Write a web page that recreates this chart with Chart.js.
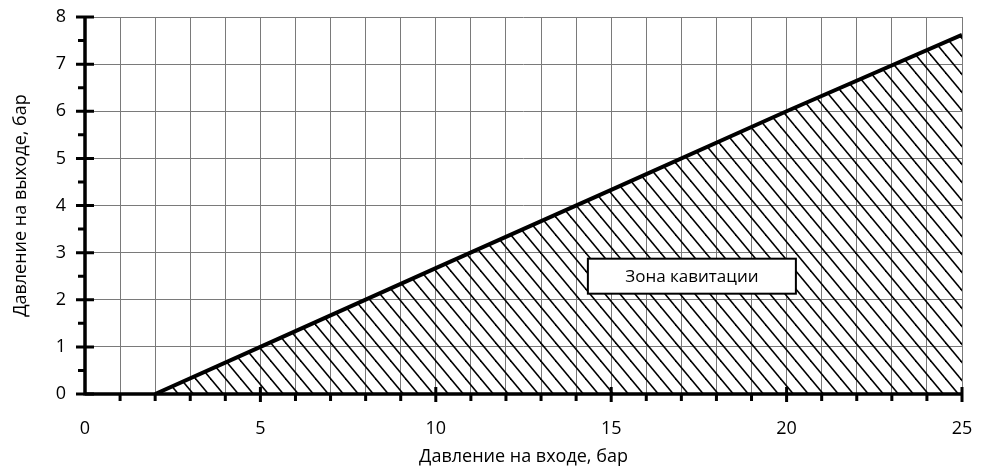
<!DOCTYPE html>
<html>
<head>
<meta charset="utf-8">
<script src="https://cdn.jsdelivr.net/npm/chart.js@4.4.0/dist/chart.umd.min.js"></script>
<style>
  html, body { margin: 0; padding: 0; background: #fff; }
  #wrap { width: 981px; height: 471px; }
</style>
</head>
<body>
<div id="wrap"><canvas id="chart" width="981" height="471"></canvas></div>
<script>
// данные кривой кавитации (давление на входе / на выходе, бар)
const inletPressure = [2, 5, 10, 15, 20, 25];
const outletPressure = [0, 1, 2.67, 4.33, 6, 7.62];
const xTickLabels = [0, 5, 10, 15, 20, 25];
const yTickLabels = [0, 1, 2, 3, 4, 5, 6, 7, 8];
const zoneLabel = 'Зона кавитации';
const zoneLabelAt = [17.3, 2.5];

const FONT = '"Open Sans", "DejaVu Sans", sans-serif';

// штриховка
function makeHatch() {
  const w = 15, h = 18;
  const c = document.createElement('canvas');
  c.width = w; c.height = h;
  const g = c.getContext('2d');
  g.strokeStyle = '#000';
  g.lineWidth = 1.6;
  [-w, 0, w].forEach(off => {
    g.beginPath();
    g.moveTo(off - w, -h);
    g.lineTo(off + 2 * w, 2 * h);
    g.stroke();
  });
  return g.createPattern(c, 'repeat');
}

// убрать автоматические отступы шкалы под подписи
function noOverhang(s) {
  s.paddingLeft = 0; s.paddingRight = 0;
  s.paddingTop = 0; s.paddingBottom = 0;
}

// оси, засечки и подпись зоны
const axesPlugin = {
  id: 'axesPlugin',
  afterDraw(chart) {
    const ctx = chart.ctx;
    const xs = chart.scales.x, ys = chart.scales.y;
    const x0 = xs.getPixelForValue(0), x1 = xs.getPixelForValue(25);
    const y0 = ys.getPixelForValue(0), y1 = ys.getPixelForValue(8);
    ctx.save();
    ctx.strokeStyle = '#000';
    ctx.lineCap = 'butt';

    ctx.lineWidth = 3.5;
    ctx.beginPath();
    ctx.moveTo(x0, y0 + 1.5); ctx.lineTo(x0, y1);
    ctx.moveTo(x0, y0); ctx.lineTo(x1, y0);
    ctx.stroke();

    ctx.lineWidth = 3;
    ctx.beginPath();
    for (let v = 0; v <= 8; v += 0.5) {
      const py = ys.getPixelForValue(v);
      if (v % 1 === 0) {
        ctx.moveTo(x0 - 9, py); ctx.lineTo(x0 + 9, py);
      } else {
        ctx.moveTo(x0 - 7, py); ctx.lineTo(x0, py);
      }
    }
    for (let v = 1; v <= 25; v++) {
      const px = xs.getPixelForValue(v);
      if (v % 5 === 0) {
        ctx.moveTo(px, y0 - 7); ctx.lineTo(px, y0 + 8);
      } else {
        ctx.moveTo(px, y0); ctx.lineTo(px, y0 + 7);
      }
    }
    ctx.stroke();

    // подпись
    const cx = xs.getPixelForValue(zoneLabelAt[0]);
    const cy = ys.getPixelForValue(zoneLabelAt[1]);
    const bw = 208, bh = 35;
    ctx.fillStyle = '#fff';
    ctx.fillRect(cx - bw / 2, cy - bh / 2, bw, bh);
    ctx.lineWidth = 2;
    ctx.strokeRect(cx - bw / 2, cy - bh / 2, bw, bh);
    ctx.fillStyle = '#000';
    ctx.font = '17px ' + FONT;
    ctx.textAlign = 'center';
    ctx.textBaseline = 'middle';
    ctx.fillText(zoneLabel, cx, cy + 1);
    ctx.restore();
  }
};

const ctx = document.getElementById('chart').getContext('2d');
new Chart(ctx, {
  type: 'scatter',
  data: {
    datasets: [{
      data: inletPressure.map((x, i) => ({ x: x, y: outletPressure[i] })),
      showLine: true,
      borderColor: '#000',
      borderWidth: 4,
      pointRadius: 0,
      tension: 0,
      fill: 'origin',
      backgroundColor: makeHatch()
    }]
  },
  options: {
    responsive: false,
    animation: false,
    layout: { padding: { left: 0, right: 19, top: 17, bottom: 0 } },
    plugins: { legend: { display: false }, tooltip: { enabled: false } },
    scales: {
      x: {
        type: 'linear',
        min: 0, max: 25,
        afterFit(s) { s.height = 77; noOverhang(s); },
        afterBuildTicks(s) {
          s.ticks = [];
          for (let v = 0; v <= 25; v++) s.ticks.push({ value: v });
        },
        grid: { color: '#7a7a7a', lineWidth: 1, drawTicks: false },
        border: { display: false },
        ticks: {
          autoSkip: false,
          maxRotation: 0,
          padding: 24,
          color: '#000',
          font: { family: FONT, size: 18 },
          callback: v => xTickLabels.includes(v) ? String(v) : ''
        },
        title: {
          display: true,
          text: 'Давление на входе, бар',
          color: '#000',
          font: { family: FONT, size: 18 },
          padding: { top: 0, bottom: 3 }
        }
      },
      y: {
        type: 'linear',
        min: 0, max: 8,
        afterFit(s) { s.width = 85; noOverhang(s); },
        afterBuildTicks(s) {
          s.ticks = yTickLabels.map(v => ({ value: v }));
        },
        grid: { color: '#7a7a7a', lineWidth: 1, drawTicks: false },
        border: { display: false },
        ticks: {
          autoSkip: false,
          padding: 19,
          color: '#000',
          font: { family: FONT, size: 18 },
          callback: v => String(v)
        },
        title: {
          display: true,
          text: 'Давление на выходе, бар',
          color: '#000',
          font: { family: FONT, size: 18 },
          padding: { top: 10, bottom: 0 }
        }
      }
    }
  },
  plugins: [axesPlugin]
});
</script>
</body>
</html>
